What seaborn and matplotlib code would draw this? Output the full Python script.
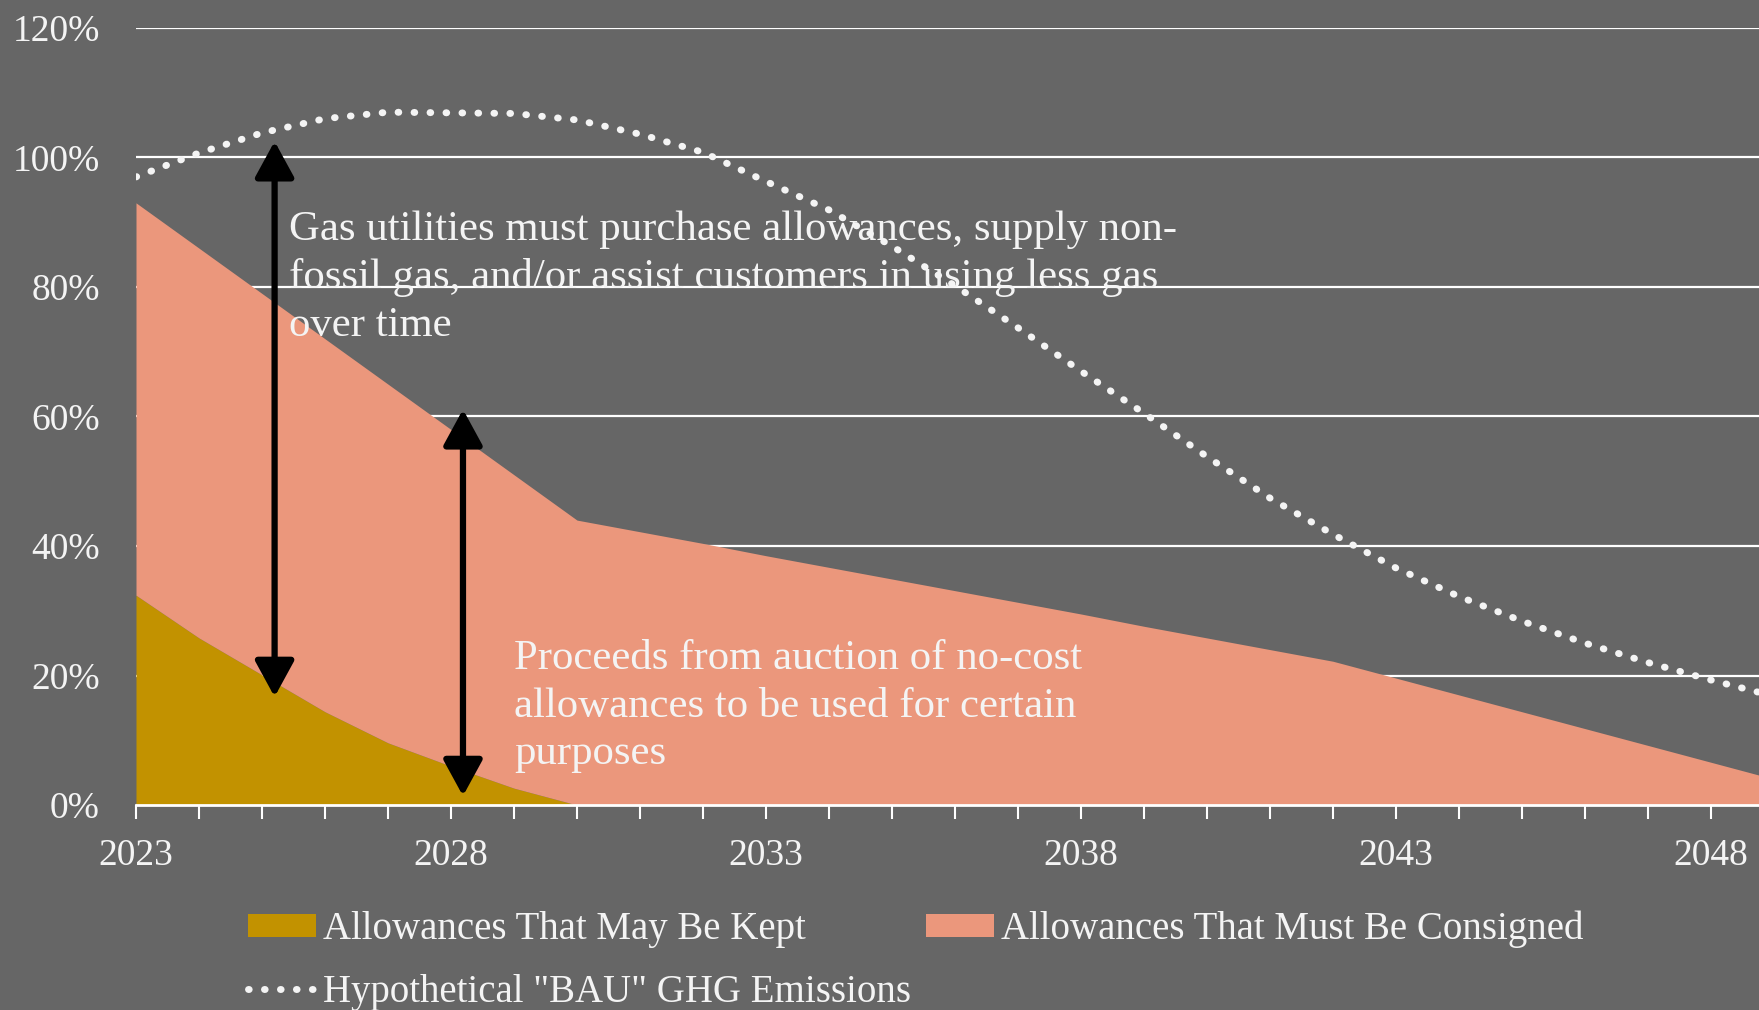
import matplotlib
matplotlib.use("Agg")
import matplotlib.pyplot as plt
import matplotlib.ticker as mticker
from matplotlib.patches import Patch
from matplotlib.lines import Line2D
import numpy as np
import pandas as pd
import seaborn as sns

# data (percent of baseline)
years = list(range(2023, 2050))
kept = [32.4, 25.8, 20.1, 14.4, 9.6, 6.0, 2.6, 0.0, 0.0, 0.0, 0.0, 0.0, 0.0, 0.0,
        0.0, 0.0, 0.0, 0.0, 0.0, 0.0, 0.0, 0.0, 0.0, 0.0, 0.0, 0.0, 0.0]
consigned = [60.6, 60.2, 58.9, 57.6, 55.4, 52.0, 48.4, 44.0, 42.2, 40.4, 38.5, 36.7,
             34.9, 33.1, 31.3, 29.5, 27.6, 25.8, 24.0, 22.2, 19.6, 17.0, 14.4, 11.8,
             9.2, 6.6, 4.0]
bau = [97.0, 100.7, 103.8, 106.0, 107.0, 106.9, 106.8, 105.8, 103.6, 100.8, 96.3, 91.9,
       86.3, 80.2, 73.7, 67.0, 60.5, 53.8, 47.4, 41.8, 36.6, 32.2, 28.4, 25.0, 22.0,
       19.3, 16.8]
label_years = [2023, 2028, 2033, 2038, 2043, 2048]

series_names = ["Allowances That May Be Kept", "Allowances That Must Be Consigned",
                'Hypothetical "BAU" GHG Emissions']

df = pd.DataFrame({"year": years, "kept": np.array(kept) / 100,
                   "consigned": np.array(consigned) / 100, "bau": np.array(bau) / 100})

BG = "#666666"
GOLD = "#C29200"
SALMON = "#EB977C"
WHITE = "#F4F4F4"

sns.set_theme(style="white")
plt.rcParams["font.family"] = ["Liberation Serif", "DejaVu Serif"]

fig = plt.figure(figsize=(17.59, 10.10), dpi=100, facecolor=BG)
ax = fig.add_axes([136 / 1759, 205 / 1010, 1 - 136 / 1759, 777 / 1010])
ax.set_facecolor(BG)

# stacked areas
ax.stackplot(df["year"], df["kept"], df["consigned"], colors=[GOLD, SALMON],
             linewidth=0, zorder=2)

# BAU dotted line
sns.lineplot(data=df, x="year", y="bau", ax=ax, color=WHITE, linewidth=5,
             linestyle=(0, (0.1, 2.2)), dash_capstyle="round", zorder=4, legend=False)

ax.set_xlim(2023, 2023 + (1759 - 136) / 63)
ax.set_ylim(0, 1.2)
ax.yaxis.set_major_locator(mticker.MultipleLocator(0.2))
ax.yaxis.set_major_formatter(mticker.PercentFormatter(1.0, decimals=0))
ax.grid(axis="y", color="white", linewidth=1.6, zorder=1)
ax.set_axisbelow(True)

ax.set_xticks(years[:26])
ax.set_xticklabels([str(y) if y in label_years else "" for y in years[:26]])
ax.tick_params(axis="x", colors="white", length=10, width=1.5, direction="out",
               pad=14, labelsize=27, labelcolor=WHITE, bottom=True)
ax.tick_params(axis="y", length=0, pad=26, labelsize=27, labelcolor=WHITE)
ax.set_xlabel("")
ax.set_ylabel("")

for side in ["top", "right", "left"]:
    ax.spines[side].set_visible(False)
ax.spines["bottom"].set_color("white")
ax.spines["bottom"].set_linewidth(2)
ax.spines["bottom"].set_zorder(5)

# arrows
arrow_style = "<|-|>,head_length=1.1,head_width=0.6"
ax.annotate("", xy=(2025.2, 1.025), xytext=(2025.2, 0.167),
            arrowprops=dict(arrowstyle=arrow_style, color="black", lw=4.5,
                            mutation_scale=20, shrinkA=0, shrinkB=0), zorder=6)
ax.annotate("", xy=(2028.19, 0.611), xytext=(2028.19, 0.014),
            arrowprops=dict(arrowstyle=arrow_style, color="black", lw=4.5,
                            mutation_scale=20, shrinkA=0, shrinkB=0), zorder=6)

ax.text(2025.43, 0.815,
        "Gas utilities must purchase allowances, supply non-\n"
        "fossil gas, and/or assist customers in using less gas\n"
        "over time",
        color=WHITE, fontsize=30.8, va="center", ha="left", linespacing=1.31, zorder=7)
ax.text(2029.0, 0.152,
        "Proceeds from auction of no-cost\n"
        "allowances to be used for certain\n"
        "purposes",
        color=WHITE, fontsize=30.8, va="center", ha="left", linespacing=1.31, zorder=7)

handles = [Patch(facecolor=GOLD, edgecolor="none"),
           Line2D([0], [0], color=WHITE, linewidth=5, linestyle=(0, (0.1, 2.2)),
                  dash_capstyle="round"),
           Patch(facecolor=SALMON, edgecolor="none")]
labels = [series_names[0], series_names[2], series_names[1]]
leg = fig.legend(handles, labels, ncol=2, loc="upper left",
                 bbox_to_anchor=(248 / 1759, 1 - 911 / 1010), frameon=False,
                 fontsize=28, labelcolor=WHITE, handlelength=1.75, handleheight=0.55,
                 handletextpad=0.17, columnspacing=0.4, labelspacing=0.66,
                 borderaxespad=0, borderpad=0)

fig.savefig("out.png", dpi=100, facecolor=BG)
